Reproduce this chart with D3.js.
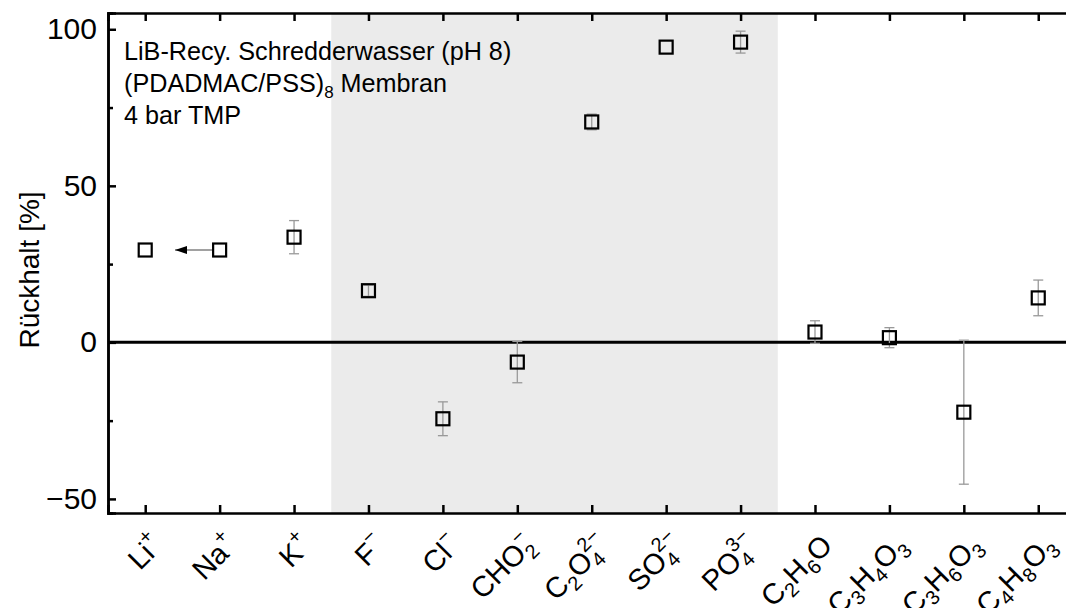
<!DOCTYPE html>
<html>
<head>
<meta charset="utf-8">
<script src="https://cdn.jsdelivr.net/npm/d3@7"></script>
<style>
    body { margin: 0; background: #fff; }
    svg { display: block; font-family: "Liberation Sans", Arial, sans-serif; }
</style>
</head>
<body>
<div id="chart"></div>
<script>
// ions / molecules along the x axis, each label split into normal / sub / sup parts
const categories = ["Li+", "Na+", "K+", "F-", "Cl-", "CHO2-", "C2O4 2-", "SO4 2-", "PO4 3-", "C2H6O", "C3H4O3", "C3H6O3", "C4H8O3"];
const labelParts = [
    [["Li"], ["+", "sup"]],
    [["Na"], ["+", "sup"]],
    [["K"], ["+", "sup"]],
    [["F"], ["\u2212", "sup"]],
    [["Cl"], ["\u2212", "sup"]],
    [["CHO"], ["2", "sub"], ["\u2212", "sup"]],
    [["C"], ["2", "sub"], ["O"], ["4", "sub"], ["2\u2212", "sup"]],
    [["SO"], ["4", "sub"], ["2\u2212", "sup"]],
    [["PO"], ["4", "sub"], ["3\u2212", "sup"]],
    [["C"], ["2", "sub"], ["H"], ["6", "sub"], ["O"]],
    [["C"], ["3", "sub"], ["H"], ["4", "sub"], ["O"], ["3", "sub"]],
    [["C"], ["3", "sub"], ["H"], ["6", "sub"], ["O"], ["3", "sub"]],
    [["C"], ["4", "sub"], ["H"], ["8", "sub"], ["O"], ["3", "sub"]]
];

// retention [%] and its standard deviation
const retention = [29.5, 29.5, 33.6, 16.5, -24.4, -6.3, 70.4, 94.3, 95.9, 3.3, 1.5, -22.3, 14.2];
const deviation = [0, 0, 5.3, 1.8, 5.4, 6.6, 2.5, 0, 3.5, 3.6, 3.2, 23, 5.7];

// shaded block: the anions F- .. PO4 3-
const shadedFrom = "F-";
const shadedTo = "PO4 3-";

// arrow Na+ -> towards Li+
const arrowFrom = "Na+";
const arrowTo = 1.4;

const yMajorTicks = [-50, 0, 50, 100];
const yMinorTicks = [-25, 25, 75];

const annotation = ["LiB-Recy. Schredderwasser (pH 8)", "(PDADMAC/PSS)", "4 bar TMP"];

const width = 1066;
const height = 608;
const plotLeft = 108, plotTop = 13, plotBottom = 513;
const step = 74.42;

const svg = d3.select("#chart").append("svg").attr("width", width).attr("height", height);

const x = d3.scaleLinear().domain([0.5, categories.length + 0.5]).range([plotLeft, plotLeft + step * categories.length]);
const y = d3.scaleLinear().domain([-54.5, 105.2]).range([plotBottom, plotTop]);
const xi = name => categories.indexOf(name) + 1;

// grey band
svg.append("rect")
    .attr("x", x(xi(shadedFrom) - 0.5))
    .attr("y", plotTop)
    .attr("width", x(xi(shadedTo) + 0.5) - x(xi(shadedFrom) - 0.5))
    .attr("height", plotBottom - plotTop)
    .attr("fill", "#ebebeb");

// zero line
svg.append("line")
    .attr("x1", x.range()[0]).attr("x2", x.range()[1])
    .attr("y1", y(0)).attr("y2", y(0))
    .attr("stroke", "#000").attr("stroke-width", 3);

// axes
const tickIdx = d3.range(1, categories.length + 1);

const yAxis = svg.append("g")
    .attr("transform", `translate(${plotLeft},0)`)
    .call(d3.axisLeft(y).tickValues(yMajorTicks).tickSize(-8).tickPadding(11)
        .tickFormat(d => d < 0 ? "\u2212" + Math.abs(d) : d));
svg.append("g")
    .attr("transform", `translate(${plotLeft},0)`)
    .call(d3.axisLeft(y).tickValues(yMinorTicks).tickSize(-5).tickFormat(""));

svg.append("g")
    .attr("transform", `translate(0,${plotBottom})`)
    .call(d3.axisBottom(x).tickValues(tickIdx).tickSize(-8).tickFormat(""));
svg.append("g")
    .attr("transform", `translate(0,${plotTop})`)
    .call(d3.axisTop(x).tickValues(tickIdx).tickSize(-8).tickFormat(""));

svg.selectAll(".domain").attr("stroke", "#000").attr("stroke-width", 2.5);
svg.selectAll(".tick line").attr("stroke", "#000").attr("stroke-width", 2.5);
yAxis.selectAll(".tick text")
    .attr("font-size", 30)
    .attr("font-family", "Liberation Sans, Arial, sans-serif")
    .attr("fill", "#000");

// rotated category labels
const baseSize = 29, smallSize = 20;
const shift = { normal: 0, sub: 7, sup: -14 };

labelParts.forEach((parts, i) => {
    const t = svg.append("text")
        .attr("transform", `translate(${x(i + 1) + 19},${547}) rotate(-45)`)
        .attr("text-anchor", "end")
        .attr("font-size", baseSize)
        .attr("fill", "#000");
    let cur = 0;
    let prev = null;
    parts.forEach(p => {
        const kind = p[1] || "normal";
        const ts = t.append("tspan").text(p[0]);
        const dy = shift[kind] - cur;
        if (dy !== 0) ts.attr("dy", dy);
        cur = shift[kind];
        if (kind !== "normal") ts.attr("font-size", smallSize);
        if (kind === "sup" && prev && prev[1] === "sub") {
            ts.attr("dx", -0.556 * smallSize * prev[0].length);
        }
        prev = p;
    });
});

// y axis title
svg.append("text")
    .attr("transform", `translate(39,270) rotate(-90)`)
    .attr("text-anchor", "middle")
    .attr("font-size", 28)
    .attr("fill", "#000")
    .text("R\u00fcckhalt [%]");

// annotation
const note = svg.append("g").attr("font-size", 25.2).attr("fill", "#000");
note.append("text").attr("x", 124).attr("y", 60).text(annotation[0]);
const l2 = note.append("text").attr("x", 124).attr("y", 92);
l2.append("tspan").text(annotation[1]);
l2.append("tspan").attr("font-size", 17).attr("dy", 6).text("8");
l2.append("tspan").attr("dy", -6).text(" Membran");
note.append("text").attr("x", 124).attr("y", 124).text(annotation[2]);

// error bars
const points = retention.map((v, i) => ({ i: i + 1, v: v, e: deviation[i] }));
const eb = svg.append("g").attr("stroke", "#999").attr("stroke-width", 1.3);
points.filter(d => d.e > 0).forEach(d => {
    eb.append("line").attr("x1", x(d.i)).attr("x2", x(d.i)).attr("y1", y(d.v - d.e)).attr("y2", y(d.v + d.e));
    eb.append("line").attr("x1", x(d.i) - 5).attr("x2", x(d.i) + 5).attr("y1", y(d.v - d.e)).attr("y2", y(d.v - d.e));
    eb.append("line").attr("x1", x(d.i) - 5).attr("x2", x(d.i) + 5).attr("y1", y(d.v + d.e)).attr("y2", y(d.v + d.e));
});

// arrow
svg.append("defs").append("marker")
    .attr("id", "head")
    .attr("viewBox", "0 0 12 8")
    .attr("refX", 12).attr("refY", 4)
    .attr("markerWidth", 12).attr("markerHeight", 8)
    .attr("markerUnits", "userSpaceOnUse")
    .attr("orient", "auto")
    .append("path").attr("d", "M0,0L12,4L0,8Z").attr("fill", "#000");

const av = retention[xi(arrowFrom) - 1];
svg.append("line")
    .attr("x1", x(xi(arrowFrom)) - 7).attr("x2", x(arrowTo))
    .attr("y1", y(av)).attr("y2", y(av))
    .attr("stroke", "#444").attr("stroke-width", 1.2)
    .attr("marker-end", "url(#head)");

// square markers
svg.selectAll("rect.pt")
    .data(points)
    .enter()
    .append("rect")
    .attr("class", "pt")
    .attr("x", d => x(d.i) - 6.5)
    .attr("y", d => y(d.v) - 6.5)
    .attr("width", 13)
    .attr("height", 13)
    .attr("fill", "none")
    .attr("stroke", "#000")
    .attr("stroke-width", 2.2);
</script>
</body>
</html>
